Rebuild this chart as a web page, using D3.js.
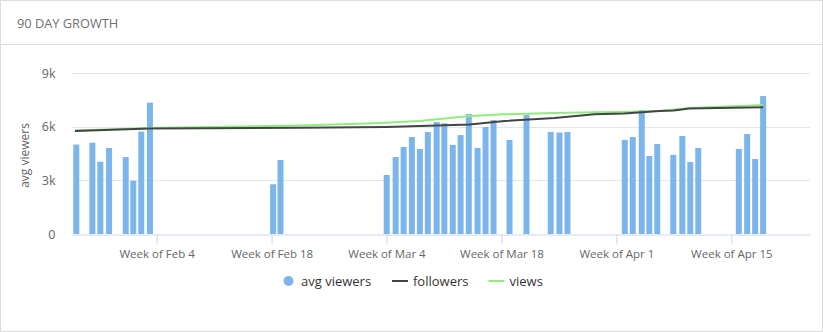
<!DOCTYPE html>
<html>
<head>
<meta charset="utf-8">
<script src="https://cdn.jsdelivr.net/npm/d3@7"></script>
<style>
  html, body { margin: 0; padding: 0; background: #fff; }
  svg { display: block; font-family: "Open Sans", "Noto Sans", sans-serif; }
</style>
</head>
<body>
<svg id="chart" width="823" height="332"></svg>
<script>
// ---- data ----
const title = "90 DAY GROWTH";
const yTickValues = [0, 3000, 6000, 9000];
const weekTicks = ["2018-02-04", "2018-02-18", "2018-03-04", "2018-03-18", "2018-04-01", "2018-04-15"];

const streamTimes = [
  "2018-01-25T05:00", "2018-01-27T04:00", "2018-01-28T03:20", "2018-01-29T04:50",
  "2018-01-31T05:30", "2018-02-01T03:40", "2018-02-02T03:00", "2018-02-03T04:20",
  "2018-02-18T04:30", "2018-02-19T02:00",
  "2018-03-04T00:30", "2018-03-05T02:40", "2018-03-06T02:00", "2018-03-07T02:00",
  "2018-03-08T01:30", "2018-03-09T00:45", "2018-03-10T02:30", "2018-03-11T01:00",
  "2018-03-12T01:40", "2018-03-13T00:30", "2018-03-14T00:30", "2018-03-15T02:10",
  "2018-03-16T01:30", "2018-03-17T00:45",
  "2018-03-18T23:30", "2018-03-21T01:10", "2018-03-24T00:00", "2018-03-25T01:30",
  "2018-03-26T01:00",
  "2018-04-02T00:30", "2018-04-02T23:45", "2018-04-04T02:10", "2018-04-05T00:15",
  "2018-04-05T23:30", "2018-04-07T22:20", "2018-04-09T00:45", "2018-04-10T00:00",
  "2018-04-10T23:20",
  "2018-04-15T22:00", "2018-04-16T22:20", "2018-04-17T21:40", "2018-04-18T21:00"
];
const avgViewers = [
  5000, 5100, 4040, 4810, 4300, 2980, 5720, 7340,
  2780, 4140,
  3300, 4300, 4860, 5420, 4750, 5700, 6260, 6190, 4980, 5530, 6710, 4810, 5980, 6370,
  5260, 6650, 5700, 5670, 5700,
  5260, 5420, 6930, 4360, 5030, 4420, 5480, 4030, 4810,
  4750, 5590, 4190, 7710
];

const followersTimes = [
  "2018-01-25T01:00", "2018-02-03T04:00", "2018-02-21T10:00", "2018-03-04T00:00",
  "2018-03-14T03:00", "2018-03-18T09:00", "2018-03-24T11:00", "2018-03-29T08:00",
  "2018-04-01T23:00", "2018-04-06T05:00", "2018-04-08T00:00", "2018-04-09T21:00",
  "2018-04-18T21:00"
];
const followers = [5760, 5900, 5940, 5980, 6120, 6320, 6480, 6700, 6740, 6880, 6900, 7020, 7090];

const viewsTimes = [
  "2018-01-25T01:00", "2018-02-03T04:00", "2018-02-21T10:00", "2018-03-02T13:00",
  "2018-03-08T00:00", "2018-03-14T03:00", "2018-03-18T09:00", "2018-03-24T11:00",
  "2018-03-29T08:00", "2018-04-01T23:00", "2018-04-06T05:00", "2018-04-09T21:00",
  "2018-04-18T21:00"
];
const views = [5790, 5930, 6060, 6190, 6320, 6600, 6690, 6760, 6800, 6820, 6880, 7050, 7210];

const legendItems = ["avg viewers", "followers", "views"];

// ---- drawing ----
const parseT = d3.utcParse("%Y-%m-%dT%H:%M");
const parseD = d3.utcParse("%Y-%m-%d");
const colors = { bar: "#7cb5ec", followers: "#434348", views: "#90ed7d" };

const svg = d3.select("#chart");
const W = 823, H = 332;

// card
svg.append("rect").attr("x", 0.5).attr("y", 0.5).attr("width", W - 1).attr("height", H - 1)
  .attr("fill", "#fff").attr("stroke", "#dcdcdc");
svg.append("line").attr("x1", 0).attr("x2", W).attr("y1", 44.5).attr("y2", 44.5)
  .attr("stroke", "#dcdcdc");
svg.append("text").attr("x", 17).attr("y", 28).text(title)
  .attr("font-size", 12.8).attr("fill", "#707070");

const plot = { left: 71.5, right: 810, top: 73, bottom: 234 };

const x = d3.scaleUtc()
  .domain([Date.UTC(2018, 0, 24, 15), Date.UTC(2018, 3, 24, 14)])
  .range([plot.left, plot.right]);
const y = d3.scaleLinear().domain([0, 9000]).range([plot.bottom, plot.top]);

// grid
const grid = svg.append("g");
grid.selectAll("line").data(yTickValues.filter(v => v > 0)).join("line")
  .attr("x1", plot.left).attr("x2", plot.right)
  .attr("y1", d => Math.round(y(d)) + 0.5).attr("y2", d => Math.round(y(d)) + 0.5)
  .attr("stroke", "#e6e6e6");

// y axis labels
const yAxis = d3.axisLeft(y).tickValues(yTickValues)
  .tickFormat(d => d === 0 ? "0" : d3.format("d")(d / 1000) + "k")
  .tickSize(0).tickPadding(0);
const yg = svg.append("g").attr("transform", `translate(${plot.left - 16},0)`).call(yAxis);
yg.select(".domain").remove();
yg.selectAll("text").attr("font-size", 12.5).attr("fill", "#666")
  .attr("font-family", "Open Sans, sans-serif");

svg.append("text")
  .attr("transform", `translate(29,${(plot.top + plot.bottom) / 2 + 2}) rotate(-90)`)
  .attr("text-anchor", "middle").attr("font-size", 12).attr("fill", "#666")
  .text("avg viewers");

// x axis
const xAxis = d3.axisBottom(x)
  .tickValues(weekTicks.map(parseD))
  .tickFormat(d => "Week of " + d3.utcFormat("%b %-d")(d))
  .tickSize(10).tickSizeOuter(0).tickPadding(5);
const xg = svg.append("g").attr("transform", `translate(0,${plot.bottom + 0.5})`).call(xAxis);
xg.select(".domain").attr("stroke", "#ccd6eb");
xg.selectAll(".tick line").attr("stroke", "#ccd6eb");
xg.selectAll("text").attr("font-size", 11.5).attr("fill", "#666")
  .attr("font-family", "Open Sans, sans-serif");

// bars
const barData = streamTimes.map((t, i) => ({ t: parseT(t), v: avgViewers[i] }));
const bw = 6;
svg.append("g").selectAll("rect").data(barData).join("rect")
  .attr("x", d => x(d.t) - bw / 2)
  .attr("y", d => y(d.v))
  .attr("width", bw)
  .attr("height", d => y(0) - y(d.v))
  .attr("fill", colors.bar);

// lines
const line = d3.line().x(d => x(d.t)).y(d => y(d.v));
const fData = followersTimes.map((t, i) => ({ t: parseT(t), v: followers[i] }));
const vData = viewsTimes.map((t, i) => ({ t: parseT(t), v: views[i] }));
svg.append("path").datum(vData).attr("d", line).attr("fill", "none")
  .attr("stroke", colors.views).attr("stroke-width", 2);
svg.append("path").datum(fData).attr("d", line).attr("fill", "none")
  .attr("stroke", colors.followers).attr("stroke-width", 2);

// legend
const lg = svg.append("g").attr("font-size", 13).attr("fill", "#333");
const ly = 281;
const legendPos = [288.5, 392, 488.5];
legendItems.forEach((name, i) => {
  const lx = legendPos[i];
  if (i === 0) {
    lg.append("circle").attr("cx", lx).attr("cy", ly).attr("r", 5).attr("fill", colors.bar);
    lg.append("text").attr("x", lx + 12.5).attr("y", ly + 4.5).text(name);
  } else {
    const c = i === 1 ? colors.followers : colors.views;
    lg.append("line").attr("x1", lx).attr("x2", lx + 16).attr("y1", ly).attr("y2", ly)
      .attr("stroke", c).attr("stroke-width", 2);
    lg.append("text").attr("x", lx + 21).attr("y", ly + 4.5).text(name);
  }
});
</script>
</body>
</html>
